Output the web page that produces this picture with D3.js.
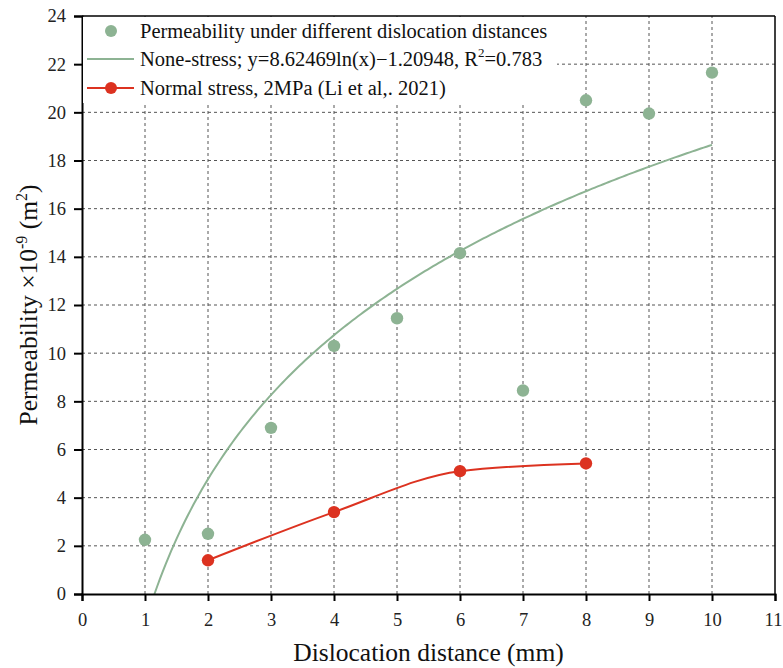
<!DOCTYPE html>
<html><head><meta charset="utf-8">
<script src="https://cdn.jsdelivr.net/npm/d3@7"></script>
<style>body{margin:0;background:#fff}svg{display:block}svg text{font-family:"Liberation Serif","Times New Roman",Times,"DejaVu Serif",serif !important}</style>
</head><body><svg id="c" width="783" height="668"></svg>
<script>
// Data
const scatterX = [1, 2, 3, 4, 5, 6, 7, 8, 9, 10];
const scatterY = [2.25, 2.5, 6.9, 10.3, 11.45, 14.15, 8.45, 20.5, 19.95, 21.65];
const stressX = [2, 4, 6, 8];
const stressY = [1.4, 3.4, 5.1, 5.42];
const fitCoef = [8.62469, -1.20948]; // y = a ln(x) + b
const fitRange = [1.15, 10];
const xTicks = [0,1,2,3,4,5,6,7,8,9,10,11];
const yTicks = [0,2,4,6,8,10,12,14,16,18,20,22,24];
const legendLabels = ["Permeability under different dislocation distances",
  "None-stress; y=8.62469ln(x)\u22121.20948, R",
  "Normal stress, 2MPa (Li et al,. 2021)"];

const green = "#8db393", red = "#dc3220";
const svg = d3.select("#c");
const L = 82, R = 775, T = 16, B = 594;
const x = d3.scaleLinear().domain([0, 11]).range([L, R]);
const y = d3.scaleLinear().domain([0, 24]).range([B, T]);

// grid
const g = svg.append("g");
g.selectAll(".vg").data(xTicks.slice(1, -1)).join("line")
  .attr("x1", d => x(d)).attr("x2", d => x(d)).attr("y1", B).attr("y2", T)
  .attr("stroke", "#555").attr("stroke-width", 1).attr("stroke-dasharray", "3,3");
g.selectAll(".hg").data(yTicks.slice(1, -1)).join("line")
  .attr("y1", d => y(d)).attr("y2", d => y(d)).attr("x1", L).attr("x2", R)
  .attr("stroke", "#555").attr("stroke-width", 1).attr("stroke-dasharray", "3,3");

// frame top/right
svg.append("line").attr("x1", L).attr("x2", R).attr("y1", T).attr("y2", T).attr("stroke", "#000").attr("stroke-width", 1.5);
svg.append("line").attr("x1", R).attr("x2", R).attr("y1", T).attr("y2", B).attr("stroke", "#000").attr("stroke-width", 1.5);

// fit curve
const fitPts = d3.range(0, 201).map(i => {
  const xv = fitRange[0] + (fitRange[1] - fitRange[0]) * i / 200;
  return [xv, fitCoef[0] * Math.log(xv) + fitCoef[1]];
});
svg.append("path").datum(fitPts)
  .attr("d", d3.line().x(d => x(d[0])).y(d => y(Math.max(0, d[1]))))
  .attr("fill", "none").attr("stroke", green).attr("stroke-width", 2);

// stress line
const sData = stressX.map((v, i) => [v, stressY[i]]);
svg.append("path").datum(sData)
  .attr("d", d3.line().curve(d3.curveMonotoneX).x(d => x(d[0])).y(d => y(d[1])))
  .attr("fill", "none").attr("stroke", red).attr("stroke-width", 2);
svg.selectAll(".sd").data(sData).join("circle")
  .attr("cx", d => x(d[0])).attr("cy", d => y(d[1])).attr("r", 6.2).attr("fill", red);

// scatter
svg.selectAll(".pt").data(scatterX.map((v, i) => [v, scatterY[i]])).join("circle")
  .attr("cx", d => x(d[0])).attr("cy", d => y(d[1])).attr("r", 6.2).attr("fill", green);

// axes
const xa = svg.append("g").attr("transform", `translate(0,${B})`)
  .call(d3.axisBottom(x).tickValues(xTicks).tickSize(7).tickPadding(12).tickFormat(d3.format("d")));
const ya = svg.append("g").attr("transform", `translate(${L},0)`)
  .call(d3.axisLeft(y).tickValues(yTicks).tickSize(8).tickPadding(8).tickFormat(d3.format("d")));
[xa, ya].forEach(a => {
  a.attr("font-family", null);
  a.select(".domain").attr("stroke", "#000").attr("stroke-width", 2);
  a.selectAll(".tick line").attr("stroke", "#000").attr("stroke-width", 2);
  a.selectAll(".tick text").attr("font-size", 18.5).attr("fill", "#222");
});
xa.selectAll(".tick text").filter(d => d === 11).attr("dx", -2);

// axis titles
svg.append("text").attr("x", (L + R) / 2).attr("y", 661).attr("text-anchor", "middle")
  .attr("font-size", 25.5).attr("fill", "#111").text("Dislocation distance (mm)");
const yt = svg.append("text").attr("transform", `translate(37,305) rotate(-90)`)
  .attr("text-anchor", "middle").attr("font-size", 25.5).attr("fill", "#111");
yt.append("tspan").text("Permeability \u00d710");
yt.append("tspan").attr("font-size", 16).attr("dy", -10).text("-9");
yt.append("tspan").attr("dy", 10).text(" (m");
yt.append("tspan").attr("font-size", 16).attr("dy", -10).text("2");
yt.append("tspan").attr("dy", 10).text(")");

// legend
const lg = svg.append("g");
lg.append("rect").attr("x", L + 1).attr("y", T + 1).attr("width", 474).attr("height", 86).attr("fill", "#fff");
const rows = [31, 59, 88];
const tx = 140;
lg.append("circle").attr("cx", 111).attr("cy", rows[0]).attr("r", 6).attr("fill", green);
lg.append("line").attr("x1", 87).attr("x2", 134).attr("y1", rows[1]).attr("y2", rows[1]).attr("stroke", green).attr("stroke-width", 2);
lg.append("line").attr("x1", 87).attr("x2", 134).attr("y1", rows[2]).attr("y2", rows[2]).attr("stroke", red).attr("stroke-width", 2);
lg.append("circle").attr("cx", 111).attr("cy", rows[2]).attr("r", 6).attr("fill", red);
rows.forEach((r, i) => {
  const t = lg.append("text").attr("x", tx).attr("y", r + 7).attr("font-size", 20.5).attr("fill", "#111").text(legendLabels[i]);
  if (i === 1) {
    t.append("tspan").attr("font-size", 13).attr("dy", -9).text("2");
    t.append("tspan").attr("dy", 9).text("=0.783");
  }
});
</script></body></html>
